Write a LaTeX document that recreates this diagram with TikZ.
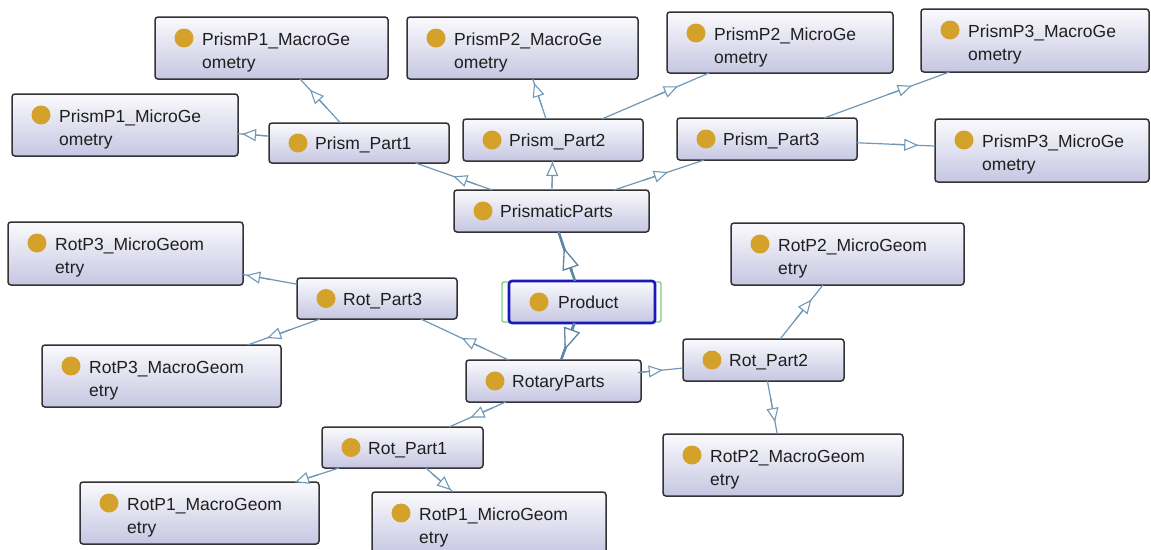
\documentclass[tikz,border=0pt]{standalone}
\usepackage{fontspec}
\setmainfont{Liberation Sans}
\usetikzlibrary{arrows.meta,calc}
\definecolor{edgec}{RGB}{112,152,182}
\definecolor{edgedk}{RGB}{92,132,165}
\definecolor{dotc}{RGB}{212,162,42}
\definecolor{boxtop}{RGB}{250,250,253}
\definecolor{boxbot}{RGB}{198,198,226}
\definecolor{boxline}{RGB}{50,50,55}
\definecolor{prodblue}{RGB}{25,25,185}
\definecolor{prodgreen}{RGB}{130,205,130}
\tikzset{
  clsbox/.style={rectangle, rounded corners=3pt, draw=boxline, line width=1.5pt,
    top color=boxtop, bottom color=boxbot, inner sep=0pt, outer sep=0pt},
  prodbox/.style={clsbox, draw=prodblue, line width=2.6pt},
  lbl/.style={inner sep=0pt, font=\fontsize{17.5}{21}\selectfont, text=black!88},
  cdot/.style={fill=dotc},
  lnk/.style={draw=edgec, line width=1.2pt},
  bigedge/.style={draw=edgedk, line width=2.6pt},
  smtip/.tip={Triangle[open,fill=white,length=14pt,width=12pt,line width=1.1pt]},
  bigtip/.tip={Triangle[open,fill=white,length=22pt,width=17pt,line width=1.3pt]},
}
% single-line class node: name x1 y1 x2 y2 text
\newcommand\clsone[6]{%
  \node[clsbox, minimum width={(#4-#2)*1pt}, minimum height={(#5-#3)*1pt}] (#1) at ({(#2+#4)/2},{(#3+#5)/2}) {};
  \fill[cdot] ($(#1.west)+(29,0)$) circle[radius=9.5pt];
  \node[lbl, anchor=base west] at ($(#1.west)+(46,6.5)$) {#6};
}
% two-line class node: name x1 y1 x2 y2 line1 line2
\newcommand\clstwo[7]{%
  \node[clsbox, minimum width={(#4-#2)*1pt}, minimum height={(#5-#3)*1pt}] (#1) at ({(#2+#4)/2},{(#3+#5)/2}) {};
  \fill[cdot] ($(#1.north west)+(29,21)$) circle[radius=9.5pt];
  \node[lbl, anchor=base west] at ($(#1.north west)+(47,28)$) {#6};
  \node[lbl, anchor=base west] at ($(#1.north west)+(47,51)$) {#7};
}
% connector: style tip source target tip-fraction
\newcommand\isa[5]{%
  \draw[#1] (#3) -- (#4);
  \coordinate (tp) at ($(#3.center)!#5!(#4.center)$);
  \draw[#1, -#2] ($(tp)!25pt!(#3.center)$) -- (tp);
}
\begin{document}
\begin{tikzpicture}[x=1pt,y=-1pt]
\useasboundingbox (0,0) rectangle (1151,549);
\clip (0,0) rectangle (1151,549);
\fill[white] (0,0) rectangle (1151,549);

\clstwo{P1Ma}{155}{17}{388}{79}{PrismP1\_MacroGe}{ometry}
\clstwo{P1Mi}{12}{94}{238}{156}{PrismP1\_MicroGe}{ometry}
\clsone{PP1}{269}{123}{449}{163}{Prism\_Part1}
\clstwo{P2Ma}{407}{17}{638}{79}{PrismP2\_MacroGe}{ometry}
\clstwo{P2Mi}{667}{12}{893}{73}{PrismP2\_MicroGe}{ometry}
\clsone{PP2}{463}{119}{643}{161}{Prism\_Part2}
\clsone{PP3}{677}{118}{857}{160}{Prism\_Part3}
\clstwo{P3Ma}{921}{9}{1149}{72}{PrismP3\_MacroGe}{ometry}
\clstwo{P3Mi}{935}{119}{1149}{182}{PrismP3\_MicroGe}{ometry}
\clsone{PrP}{454}{190}{649}{232}{PrismaticParts}

\draw[prodgreen, line width=1.4pt, rounded corners=2pt] (502,282) rectangle (661,322);
\node[prodbox, minimum width=146pt, minimum height=42pt] (Prod) at (582,302) {};
\fill[cdot] (539,302) circle[radius=9.5pt];
\node[lbl, anchor=base west] at (558,308.5) {Product};

\clstwo{R3Mi}{8}{222}{243}{285}{RotP3\_MicroGeom}{etry}
\clsone{RP3}{297}{278}{457}{319}{Rot\_Part3}
\clstwo{R3Ma}{42}{345}{281}{407}{RotP3\_MacroGeom}{etry}
\clstwo{R2Mi}{731}{223}{964}{285}{RotP2\_MicroGeom}{etry}
\clsone{RoP}{466}{360}{641}{402}{RotaryParts}
\clsone{RP2}{683}{339}{844}{381}{Rot\_Part2}
\clstwo{R2Ma}{663}{434}{903}{496}{RotP2\_MacroGeom}{etry}
\clsone{RP1}{322}{427}{483}{468}{Rot\_Part1}
\clstwo{R1Ma}{80}{482}{319}{544}{RotP1\_MacroGeom}{etry}
\clstwo{R1Mi}{372}{492}{606}{555}{RotP1\_MicroGeom}{etry}

\isa{lnk}{smtip}{PP1}{P1Ma}{0.56}
\isa{lnk}{smtip}{PP1}{P1Mi}{0.5}
\isa{lnk}{smtip}{PrP}{PP1}{0.51}
\isa{lnk}{smtip}{PrP}{PP2}{0.69}
\isa{lnk}{smtip}{PrP}{PP3}{0.54}
\isa{lnk}{smtip}{PP2}{P2Ma}{0.62}
\isa{lnk}{smtip}{PP2}{P2Mi}{0.55}
\isa{lnk}{smtip}{PP3}{P3Ma}{0.54}
\isa{lnk}{smtip}{PP3}{P3Mi}{0.55}
\isa{bigedge}{bigtip}{Prod}{PrP}{0.6}
\isa{bigedge}{bigtip}{Prod}{RoP}{0.61}
\isa{lnk}{smtip}{RP3}{R3Mi}{0.52}
\isa{lnk}{smtip}{RP3}{R3Ma}{0.51}
\isa{lnk}{smtip}{RoP}{RP3}{0.52}
\isa{lnk}{smtip}{RoP}{RP2}{0.52}
\isa{lnk}{smtip}{RP2}{R2Mi}{0.57}
\isa{lnk}{smtip}{RP2}{R2Ma}{0.59}
\isa{lnk}{smtip}{RoP}{RP1}{0.55}
\isa{lnk}{smtip}{RP1}{R1Ma}{0.53}
\isa{lnk}{smtip}{RP1}{R1Mi}{0.56}
\end{tikzpicture}
\end{document}
